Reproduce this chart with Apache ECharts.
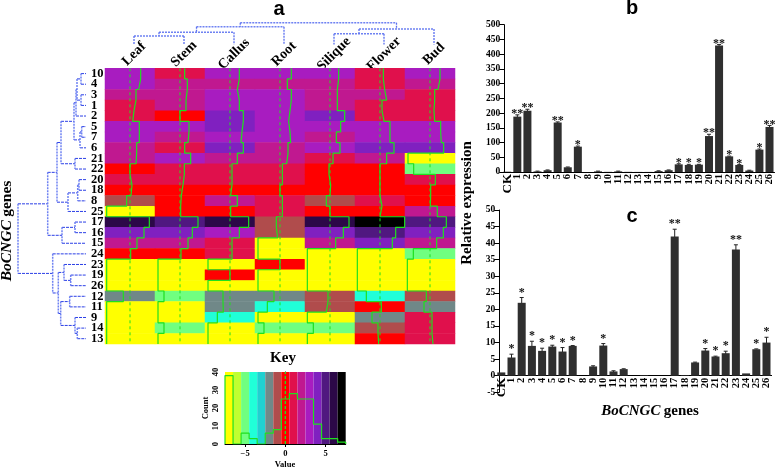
<!DOCTYPE html>
<html><head><meta charset="utf-8">
<style>html,body{margin:0;padding:0;background:#fff}#c{width:775px;height:469px}</style>
<script src="https://cdn.jsdelivr.net/npm/echarts@6/dist/echarts.min.js"></script>
</head><body><div id="c"></div>
<script>
const genes=['10','4','3','1','2','5','7','6','21','22','20','18','8','25','17','16','15','24','23','19','26','12','11','9','14','13'];
const tissues=['Leaf','Stem','Callus','Root','Silique','Flower','Bud'];
// colour bin of each cell (log2 value rounded) – one array per tissue, rows in gene order
const binLeaf=[3,3,2,1,1,3,3,2,2,0,1,0,-1,-7,6,4,2,0,-7,-7,-7,-2,-7,-7,-7,-7];
const binStem=[1,2,2,2,0,3,2,1,3,1,1,0,0,0,5,4,2,0,-7,-7,-7,-5,-7,-7,-5,-7];
const binCallus=[3,2,3,3,4,4,3,4,2,1,1,0,2,0,6,3,1,1,-7,0,-7,-2,-2,-4,-7,-7];
const binRoot=[3,2,3,3,3,3,3,2,2,1,1,0,1,1,-1,-1,-7,-7,0,-7,-7,-2,-4,-7,-5,-7];
const binSilique=[3,2,2,2,4,3,2,3,1,0,0,0,-1,0,6,4,2,-7,-7,-7,-7,-1,-1,-7,-5,-7];
const binFlower=[1,1,2,1,1,3,3,4,2,0,0,0,1,0,7,5,4,-7,-7,-7,-7,-4,0,-2,-1,0];
const binBud=[3,2,1,1,1,3,3,4,-7,-5,1,0,0,2,5,4,2,-5,-7,-7,-7,-1,-2,1,1,1];
// trace values
const trLeaf=[3.2,2.6,1.8,1.2,.8,2.8,2.8,2,1.8,0,.6,.3,-1,-7,5.8,4.2,2.1,.2,-7,-7,-7,-2,-7,-7,-7,-7];
const trStem=[1.4,2.2,1.8,1.8,0,2.7,2.4,1.4,3.2,1.3,.9,.4,.2,.2,5.4,3.7,2.4,.3,-6.6,-6.6,-6.6,-4.8,-6.6,-6.6,-4.8,-6.6];
const trCallus=[2.8,2.2,2.8,2.8,4,3.6,3.3,4,2.2,.6,.6,.2,2.2,.2,5.6,2.8,.6,.6,-6.6,0,-6.6,-2.1,-2,-3.8,-6.6,-6.6];
const trRoot=[3.4,2.2,3.4,3,2.6,3,3.2,2.4,2,.7,.7,0,.7,.7,-1.1,-.7,-6.6,-6.6,0,-6.6,-6.6,-1.8,-3.8,-6.6,-4.8,-6.6];
const trSilique=[2.6,2.2,2.2,2.2,4.4,3.2,1.9,3,.9,-.3,.2,0,-1.1,0,5.7,4,1.7,-6.8,-6.8,-6.8,-6.8,-.6,-1.1,-6.8,-5,-6.8];
const trFlower=[1,1.4,2,.6,1.2,3,3,4.2,2,0,0,0,.6,0,7.4,4.7,3.7,-6.8,-6.8,-6.8,-6.8,-4.1,.4,-2.4,-.6,-.4];
const trBud=[3,2.4,1.4,1.2,1.4,3.2,3.4,4.1,-6.6,-4.9,1.6,.2,.1,2.2,4.9,4,2,-5,-6.8,-6.8,-6.8,-1.1,-1.8,.6,.6,.9];
const binCols=[binLeaf,binStem,binCallus,binRoot,binSilique,binFlower,binBud];
const trCols=[trLeaf,trStem,trCallus,trRoot,trSilique,trFlower,trBud];
const binValues=[-7,-6,-5,-4,-3,-2,-1,0,1,2,3,4,5,6,7];
const binColors=['#ffff00','#c0ff30','#70ff80','#20ffd8','#20d0d0','#708888','#b04c4c','#ff0000','#e0104c','#c01890','#a81cc0','#8020c0','#501880','#2c0848','#000000'];
const keyCounts=[38,0,6,3,0,6,8,25,28,25,25,11,3,3,1];
// clustering trees: [merge depth, child, child]
const geneTree=[18,[47.7,[57,[61,[74,[76,[77,[81,'10','4'],[81,'3','1']],'2'],[80,[81.7,'5','7'],'6']],[75,'21','22']],[68,[77.7,[79,'20','18'],'8'],'25']],[62,[75,'17','16'],'15']],[52.7,'24',[58.3,[64,'23',[70.7,'19','26']],[60.7,[69.7,'12','11'],[75,'9',[77.3,'14','13']]]]]];
const tissueTree=[22.7,[26.7,[32.3,[36,'Leaf','Stem'],'Callus'],'Root'],[29,[33.7,'Silique','Flower'],'Bud']];
const barCats=['CK','1','2','3','4','5','6','7','8','9','10','11','12','13','14','15','16','17','18','19','20','21','22','23','24','25','26'];
const bVals=[1,188,208,2,6,168,16,86,0,2,.5,2,.5,.3,.3,3,6,26,24,25,122,429,53,24,5,76,153];
const bErrs=[0,6,5,1,1,2,1,2,0,1,0,1,0,0,0,1,1,2,2,1,6,4,1,1,1,2,5];
const bStars=['','**','**','','','**','','*','','','','','','','','','','*','*','*','**','**','*','*','','*','**'];
const cVals=[1,5.5,22,9,7.5,8.8,7.3,9,0,2.8,9.1,1.3,2,0,.2,0,0,42,.2,4,7.6,5.8,6.8,38.1,.7,8,10];
const cErrs=[0,1,1.6,1.4,.8,.4,1.2,.1,0,.2,.6,.2,.1,0,0,0,0,2.2,0,.1,.6,.1,.6,1.4,0,.1,1.6];
const cStars=['','*','*','*','*','*','*','*','','','*','','','','','','','**','','','*','*','*','**','','*','*'];

const serif='"Liberation Serif","Times New Roman",serif';
const sans='"Liberation Sans",Arial,sans-serif';
const GREEN='#1fe01f';

function seg(xi,yi,segs,color,dash,width){
  return {type:'custom',coordinateSystem:'cartesian2d',xAxisIndex:xi,yAxisIndex:yi,silent:true,clip:false,animation:false,data:segs,encode:{x:[0,2],y:[1,3]},
    renderItem:(p,api)=>{const a=api.coord([api.value(0),api.value(1)]),b=api.coord([api.value(2),api.value(3)]);
      return {type:'line',shape:{x1:a[0],y1:a[1],x2:b[0],y2:b[1]},style:{stroke:color,lineWidth:width,lineDash:dash,fill:null}};}};
}
// walk a tree; posOf gives leaf position along the sibling axis; returns segments
function walk(tree,posOf,leafDepth){
  const along=[],across=[];
  (function rec(n){
    if(typeof n==='string')return {p:posOf(n),d:leafDepth};
    const a=rec(n[1]),b=rec(n[2]),d=n[0];
    across.push([a.p,d,a.d],[b.p,d,b.d]);
    along.push([a.p,b.p,d]);
    return {p:(a.p+b.p)/2,d};
  })(tree);
  return {along,across};
}
const rowT=walk(geneTree,g=>genes.indexOf(g)+.5,86);
const colT=walk(tissueTree,t=>tissues.indexOf(t)+.5,44.5);

const heatData=[];
binCols.forEach((col,c)=>col.forEach((v,r)=>heatData.push([c,r,v])));
const traceSeries=trCols.map((col,c)=>{
  const pts=[];
  col.forEach((v,r)=>{const x=c+.5+v/15;pts.push([x,r],[x,r+1]);});
  return {type:'line',xAxisIndex:1,yAxisIndex:1,data:pts,symbol:'none',silent:true,animation:false,lineStyle:{color:GREEN,width:1.2},clip:false};
});
const centerLines=seg(1,1,tissues.map((t,c)=>[c+.5,0,c+.5,26]),GREEN,[3,3],1);

const keyStep=[[-7.5,0]];
keyCounts.forEach((n,i)=>{keyStep.push([binValues[i]-.5,n],[binValues[i]+.5,n]);});
keyStep.push([7.5,0]);

function barSet(xi,yi,vals){
  return {type:'bar',xAxisIndex:xi,yAxisIndex:yi,data:vals,barWidth:8,silent:true,animation:false,itemStyle:{color:'#2f2f2f'}};
}
function errSet(xi,yi,vals,errs,stars,gap){
  return {type:'custom',coordinateSystem:'cartesian2d',xAxisIndex:xi,yAxisIndex:yi,silent:true,animation:false,clip:false,
    data:vals.map((v,i)=>[i,v,errs[i],stars[i]]),encode:{x:0,y:1},
    renderItem:(p,api)=>{
      const i=p.dataIndex,v=vals[i],e=errs[i],s=stars[i];
      const t=api.coord([i,v+e]),bt=api.coord([i,v-e]);
      const ch=[];
      if(e>0){
        const st={stroke:'#222',lineWidth:1,fill:null};
        ch.push({type:'line',shape:{x1:t[0],y1:t[1],x2:t[0],y2:bt[1]},style:st},
                {type:'line',shape:{x1:t[0]-2,y1:t[1],x2:t[0]+2,y2:t[1]},style:st});
      }
      if(s)ch.push({type:'text',style:{text:s,x:t[0],y:t[1]-gap,align:'center',verticalAlign:'middle',font:'bold 12px '+serif,fill:'#111'}});
      return {type:'group',children:ch};
    }};
}
const rotTickLabel={rotate:90,interval:0,margin:2,color:'#000',fontFamily:serif,fontWeight:'bold',fontSize:10.5,
  formatter:v=>v==='CK'?'{ck|CK}':v,rich:{ck:{fontFamily:serif,fontWeight:'bold',fontSize:13,color:'#000'}}};
const valLabel={color:'#000',fontFamily:serif,fontWeight:'bold',fontSize:9.5,margin:4,showMinLabel:true,showMaxLabel:true};

const option={
  backgroundColor:'#fff',animation:false,
  grid:[
    {left:105,top:68.3,width:350,height:275.7},
    {left:105,top:68.3,width:350,height:275.7},
    {left:0,top:68.3,width:105,height:275.7},
    {left:109,top:0,width:350,height:68},
    {left:109,top:68,width:350,height:1},
    {left:225,top:372,width:120.7,height:72},
    {left:225,top:372,width:120.7,height:72},
    {left:502.2,top:24.7,width:272.7,height:147.3},
    {left:496.2,top:210,width:275.4,height:182.3}
  ],
  xAxis:[
    {gridIndex:0,type:'category',data:tissues,show:false},
    {gridIndex:1,type:'value',min:0,max:7,show:false},
    {gridIndex:2,type:'value',min:0,max:105,show:false},
    {gridIndex:3,type:'value',min:0,max:7,show:false},
    {gridIndex:4,type:'category',data:tissues,position:'top',axisLine:{show:false},axisTick:{show:false},
      axisLabel:{rotate:45,margin:14,align:'center',verticalAlign:'middle',interval:0,color:'#000',fontFamily:serif,fontWeight:'bold',fontSize:14}},
    {gridIndex:5,type:'category',data:binValues.map(String),show:false},
    {gridIndex:6,type:'value',min:-7.5,max:7.5,position:'bottom',axisLine:{show:true,lineStyle:{color:'#000'}},
      axisTick:{length:3,customValues:[-5,0,5],lineStyle:{color:'#000'}},
      axisLabel:{customValues:[-5,0,5],margin:5,color:'#000',fontFamily:serif,fontWeight:'bold',fontSize:8.5,formatter:v=>String(v).replace('-','\u2212')},splitLine:{show:false}},
    {gridIndex:7,type:'category',data:barCats,axisLine:{lineStyle:{color:'#000'}},axisTick:{show:false},axisLabel:rotTickLabel},
    {gridIndex:8,type:'category',data:barCats,position:'bottom',offset:-16.6,axisLine:{onZero:false,lineStyle:{color:'#000'}},axisTick:{show:false},axisLabel:rotTickLabel}
  ],
  yAxis:[
    {gridIndex:0,type:'category',data:genes,inverse:true,axisLine:{show:false},axisTick:{show:false},
      axisLabel:{align:'left',margin:14,interval:0,color:'#000',fontFamily:serif,fontWeight:'bold',fontSize:12.5}},
    {gridIndex:1,type:'value',min:0,max:26,inverse:true,show:false},
    {gridIndex:2,type:'value',min:0,max:26,inverse:true,show:false},
    {gridIndex:3,type:'value',min:0,max:68,inverse:true,show:false},
    {gridIndex:4,type:'value',show:false},
    {gridIndex:5,type:'value',min:0,max:40,show:false},
    {gridIndex:6,type:'value',min:0,max:40,interval:10,axisLine:{show:true,lineStyle:{color:'#000'}},axisTick:{show:true,length:3,lineStyle:{color:'#000'}},splitLine:{show:false},
      axisLabel:{rotate:90,margin:5,color:'#000',fontFamily:serif,fontWeight:'bold',fontSize:8.5}},
    {gridIndex:7,type:'value',min:0,max:500,interval:50,offset:-2,axisLine:{show:true,lineStyle:{color:'#000'}},axisTick:{show:true,length:5,lineStyle:{color:'#000'}},splitLine:{show:false},axisLabel:valLabel},
    {gridIndex:8,type:'value',min:-5,max:50,interval:5,offset:-3,axisLine:{show:true,lineStyle:{color:'#000'}},axisTick:{show:true,length:5,lineStyle:{color:'#000'}},splitLine:{show:false},axisLabel:valLabel}
  ],
  visualMap:{show:false,seriesIndex:0,type:'piecewise',dimension:2,pieces:binValues.map((v,i)=>({value:v,color:binColors[i]}))},
  series:[
    {type:'heatmap',xAxisIndex:0,yAxisIndex:0,data:heatData,silent:true,animation:false,progressive:0},
    centerLines,
    ...traceSeries,
    seg(2,2,rowT.across.map(s=>[s[1],s[0],s[2],s[0]]),'#2b3fe6',[3,1],1),
    seg(2,2,rowT.along.map(s=>[s[2],s[0],s[2],s[1]]),'#6f82f2',[2,1],1.5),
    seg(3,3,colT.along.map(s=>[s[0],s[2],s[1],s[2]]),'#6f82f2',[2,1],1.5),
    seg(3,3,colT.across.map(s=>[s[0],s[1],s[0],s[2]]),'#5a6ff0',[2,1],1.3),
    {type:'bar',xAxisIndex:5,yAxisIndex:5,data:binValues.map((v,i)=>({value:40,itemStyle:{color:binColors[i]}})),barWidth:'100%',silent:true,animation:false},
    {type:'line',xAxisIndex:6,yAxisIndex:6,data:keyStep,symbol:'none',silent:true,animation:false,lineStyle:{color:GREEN,width:1.2},z:5},
    Object.assign(seg(6,6,[[0,0,0,40]],GREEN,[3,2],1.3),{z:5}),
    barSet(7,7,bVals),errSet(7,7,bVals,bErrs,bStars,1),
    barSet(8,8,cVals),errSet(8,8,cVals,cErrs,cStars,5)
  ],
  graphic:[
    {type:'text',x:279,y:9,style:{text:'a',font:'bold 20px '+sans,fill:'#000',align:'center',verticalAlign:'middle'}},
    {type:'text',x:632,y:8,style:{text:'b',font:'bold 20px '+sans,fill:'#000',align:'center',verticalAlign:'middle'}},
    {type:'text',x:632,y:216,style:{text:'c',font:'bold 20px '+sans,fill:'#000',align:'center',verticalAlign:'middle'}},
    {type:'text',x:283,y:358,style:{text:'Key',font:'bold 15px '+serif,fill:'#000',align:'center',verticalAlign:'middle'}},
    {type:'text',x:285,y:465,style:{text:'Value',font:'bold 8.5px '+serif,fill:'#000',align:'center',verticalAlign:'middle'}},
    {type:'text',x:206,y:408,rotation:Math.PI/2,style:{text:'Count',font:'bold 8.5px '+serif,fill:'#000',align:'center',verticalAlign:'middle'}},
    {type:'text',x:467,y:203,rotation:Math.PI/2,style:{text:'Relative expression',font:'bold 15px '+serif,fill:'#000',align:'center',verticalAlign:'middle'}},
    {type:'text',x:7,y:231,rotation:Math.PI/2,style:{text:'{i|BoCNGC} {n|genes}',align:'center',verticalAlign:'middle',rich:{i:{font:'italic bold 15.5px '+serif,fill:'#000'},n:{font:'bold 15.5px '+serif,fill:'#000'}}}},
    {type:'text',x:650,y:411,style:{text:'{i|BoCNGC} {n|genes}',align:'center',verticalAlign:'middle',rich:{i:{font:'italic bold 15px '+serif,fill:'#000'},n:{font:'bold 15px '+serif,fill:'#000'}}}}
  ]
};
const chart=echarts.init(document.getElementById('c'),null,{renderer:'canvas'});
chart.setOption(option);
</script></body></html>
